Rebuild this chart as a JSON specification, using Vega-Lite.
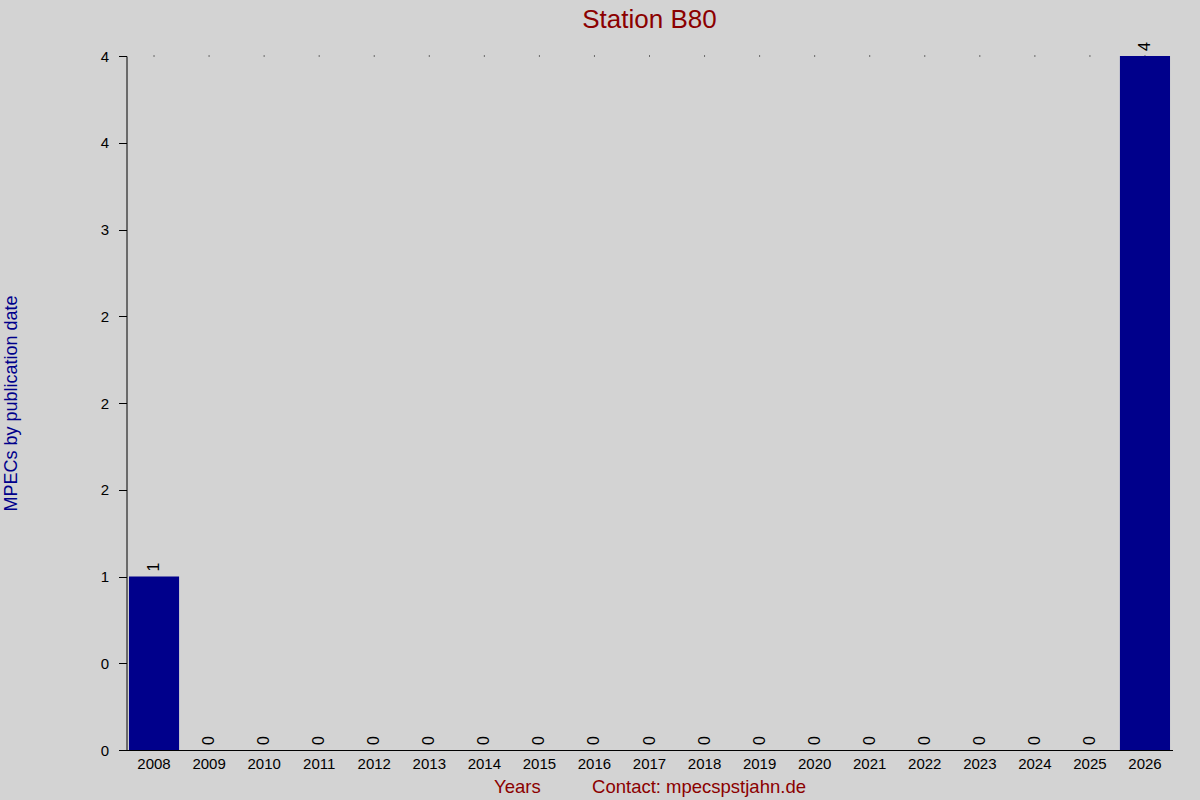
{
  "$schema": "https://vega.github.io/schema/vega-lite/v6.json",
  "autosize": "none",
  "width": 1046,
  "height": 694,
  "padding": {"left": 126.5, "top": 56, "right": 27.5, "bottom": 50},
  "background": "#D3D3D3",
  "config": {
    "view": {"stroke": null},
    "font": "Liberation Sans"
  },
  "title": {
    "text": "Station B80",
    "frame": "group",
    "anchor": "middle",
    "color": "#8B0000",
    "fontSize": 26,
    "fontWeight": "normal",
    "font": "Liberation Sans",
    "baseline": "alphabetic",
    "offset": -12
  },
  "data": {
    "values": [
      {"Year": 2008, "MPECs": 1},
      {"Year": 2009, "MPECs": 0},
      {"Year": 2010, "MPECs": 0},
      {"Year": 2011, "MPECs": 0},
      {"Year": 2012, "MPECs": 0},
      {"Year": 2013, "MPECs": 0},
      {"Year": 2014, "MPECs": 0},
      {"Year": 2015, "MPECs": 0},
      {"Year": 2016, "MPECs": 0},
      {"Year": 2017, "MPECs": 0},
      {"Year": 2018, "MPECs": 0},
      {"Year": 2019, "MPECs": 0},
      {"Year": 2020, "MPECs": 0},
      {"Year": 2021, "MPECs": 0},
      {"Year": 2022, "MPECs": 0},
      {"Year": 2023, "MPECs": 0},
      {"Year": 2024, "MPECs": 0},
      {"Year": 2025, "MPECs": 0},
      {"Year": 2026, "MPECs": 4}
    ]
  },
  "encoding": {
    "x": {
      "field": "Year",
      "type": "ordinal",
      "scale": {"paddingInner": 0.09, "paddingOuter": 0.045},
      "axis": {
        "title": "Years\u00a0\u00a0\u00a0\u00a0\u00a0\u00a0\u00a0\u00a0\u00a0\u00a0Contact: mpecspstjahn.de",
        "titleColor": "#8B0000",
        "titleFontSize": 18.5,
        "titleFontWeight": "normal",
        "titleY": 36,
        "titleBaseline": "middle",
        "labelAngle": 0,
        "labelFontSize": 15,
        "labelColor": "black",
        "labelPadding": 6,
        "ticks": false,
        "domainColor": "black",
        "grid": false
      }
    }
  },
  "layer": [
    {
      "mark": {"type": "point", "shape": "square", "size": 1, "filled": true, "color": "black", "opacity": 1},
      "encoding": {"y": {"datum": 4, "type": "quantitative"}}
    },
    {
      "mark": {"type": "bar", "color": "#00008B"},
      "encoding": {
        "y": {
          "field": "MPECs",
          "type": "quantitative",
          "scale": {"domain": [0, 4], "nice": false},
          "axis": {
            "title": "MPECs by publication date",
            "titleColor": "#00008B",
            "titleFontSize": 18,
            "titleFontWeight": "normal",
            "titleX": -115,
            "titleY": 347,
            "titleAngle": 270,
            "titleAlign": "center",
            "titleBaseline": "middle",
            "values": [0, 0.5, 1, 1.5, 2, 2.5, 3, 3.5, 4],
            "labelExpr": "datum.value == 0.5 ? '0' : datum.value == 2.5 ? '2' : format(datum.value, '.0f')",
            "labelFontSize": 15,
            "labelColor": "black",
            "labelPadding": 10,
            "tickSize": 8,
            "tickColor": "black",
            "domainColor": "black",
            "grid": false
          }
        }
      }
    },
    {
      "mark": {"type": "text", "angle": 270, "align": "left", "baseline": "middle", "dx": 5, "fontSize": 16, "color": "black"},
      "encoding": {
        "y": {"field": "MPECs", "type": "quantitative"},
        "text": {"field": "MPECs", "type": "quantitative"}
      }
    }
  ]
}
